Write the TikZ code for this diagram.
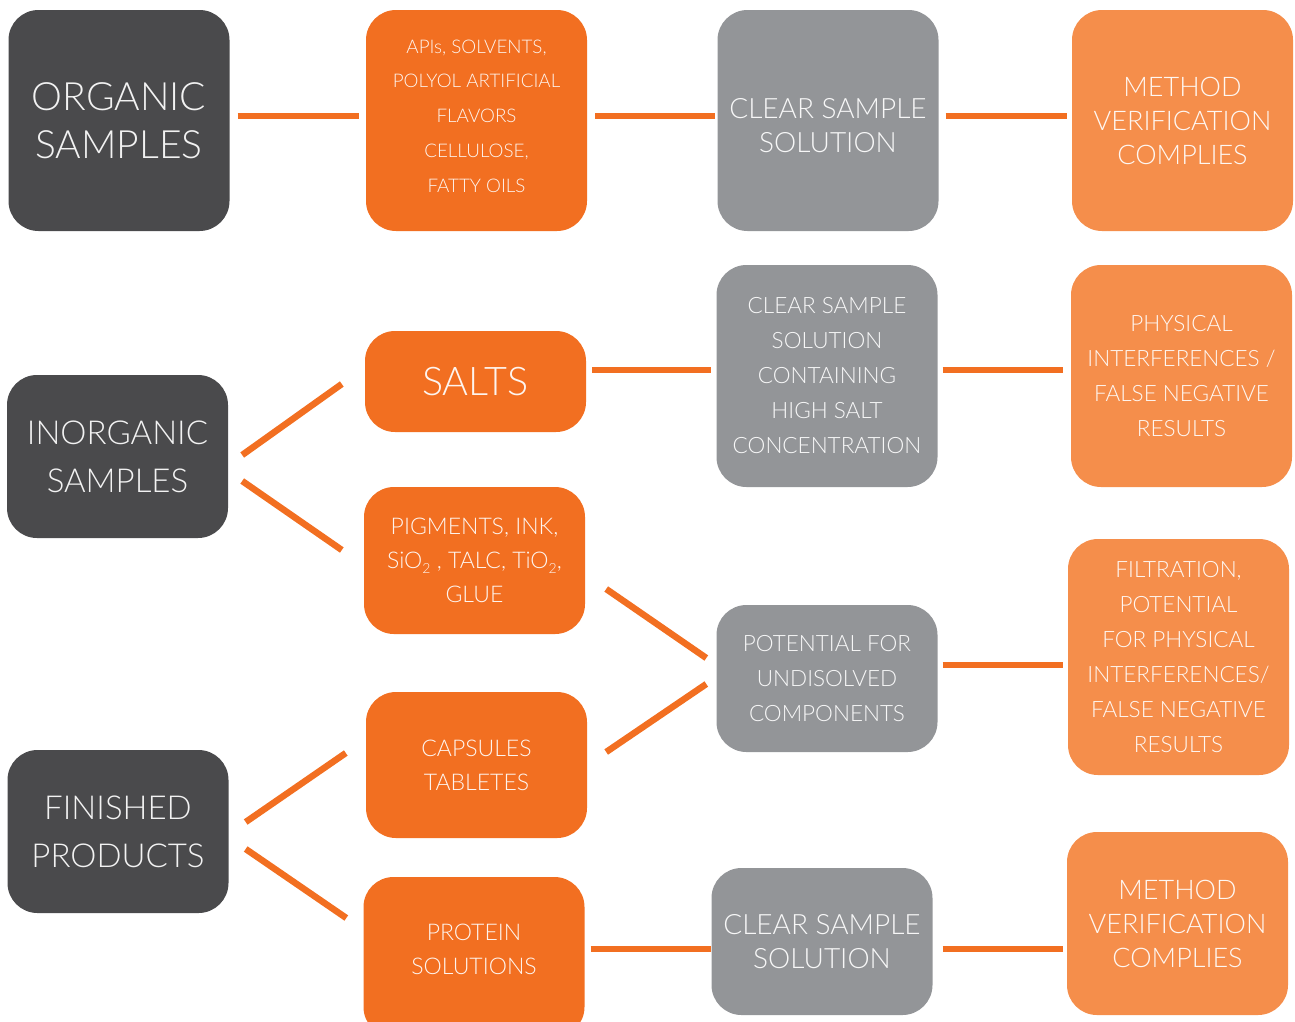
\documentclass[tikz,border=0pt]{standalone}
\usepackage{fontspec}
\setmainfont{Lato}[UprightFont=* Light]
\definecolor{boxdark}{HTML}{4A4A4C}
\definecolor{boxorange}{HTML}{F26F21}
\definecolor{boxgray}{HTML}{939598}
\definecolor{boxlight}{HTML}{F58E4B}
\definecolor{linkorange}{HTML}{F26F21}
\newcommand{\lowtwo}{\raisebox{-5pt}{\fontsize{14}{14}\selectfont 2}}
\tikzset{
  card/.style={rectangle, rounded corners=30pt, text=white, align=center,
    minimum width=221pt, inner sep=0pt, text opacity=0.93},
  darkcard/.style={card, fill=boxdark},
  orangecard/.style={card, fill=boxorange},
  graycard/.style={card, fill=boxgray},
  lightcard/.style={card, fill=boxlight},
  cardtext/.style={text=white, text opacity=0.93, align=center, inner sep=0pt},
  big/.style={font=\fontsize{39}{48}\selectfont},
  mid/.style={font=\fontsize{33}{48}\selectfont},
  med/.style={font=\fontsize{28}{34}\selectfont},
  medn/.style={font=\fontsize{27}{34}\selectfont},
  small/.style={font=\fontsize{22.5}{35}\selectfont},
  tiny/.style={font=\fontsize{23}{34}\selectfont},
  mini/.style={font=\fontsize{18.8}{34.7}\selectfont},
  link/.style={draw=linkorange, line width=6.5pt},
}
\begin{document}
\begin{tikzpicture}[x=1pt,y=-1pt]
\useasboundingbox (0,0) rectangle (1295,1021);

% first row: organic samples
\node[darkcard, big, minimum height=221pt] (org) at (119,120.5) {ORGANIC\\SAMPLES};
\node[orangecard, minimum height=221pt] (api) at (476.5,120.5) {};
\node[cardtext, mini] (apitext) at (476.5,116)
  {APIs, SOLVENTS,\\POLYOL ARTIFICIAL\\FLAVORS\\CELLULOSE,\\FATTY OILS};
\node[graycard, minimum height=221pt] (clr1) at (828,120.5) {};
\node[cardtext, med] (clr1text) at (828,125.5) {CLEAR SAMPLE\\SOLUTION};
\node[lightcard, medn, minimum height=221pt] (met1) at (1182.5,120.5) {METHOD\\VERIFICATION\\COMPLIES};

% inorganic samples
\node[darkcard, mid, minimum height=163pt] (inorg) at (117.5,456.5) {INORGANIC\\SAMPLES};
\node[orangecard, font=\fontsize{39.5}{40}\selectfont, minimum height=101pt] (salts) at (475.5,381.5) {SALTS};
\node[graycard, small, minimum height=222pt] (clr2) at (827,376)
  {CLEAR SAMPLE\\SOLUTION\\CONTAINING\\HIGH SALT\\CONCENTRATION};
\node[lightcard, small, minimum height=222pt] (phys) at (1181.5,376)
  {PHYSICAL\\INTERFERENCES /\\FALSE NEGATIVE\\RESULTS};
\node[orangecard, tiny, minimum height=147pt] (pig) at (474.5,560.5)
  {PIGMENTS, INK,\\SiO\lowtwo{} , TALC, TiO\lowtwo,\\GLUE};
\node[graycard, small, minimum height=147pt] (pot) at (827,678.5)
  {POTENTIAL FOR\\UNDISOLVED\\COMPONENTS};
\node[lightcard, small, minimum height=236pt] (filt) at (1178.5,657)
  {FILTRATION,\\POTENTIAL\\FOR PHYSICAL\\INTERFERENCES/\\FALSE NEGATIVE\\RESULTS};

% finished products
\node[orangecard, tiny, minimum height=146pt] (caps) at (476.5,765) {CAPSULES\\TABLETES};
\node[darkcard, mid, minimum height=163pt] (fin) at (118,831.5) {FINISHED\\PRODUCTS};
\node[orangecard, minimum height=160pt] (prot) at (474,957) {};
\node[cardtext, tiny] (prottext) at (474,949) {PROTEIN\\SOLUTIONS};
\node[graycard, med, minimum height=147pt] (clr3) at (822,941.5) {CLEAR SAMPLE\\SOLUTION};
\node[lightcard, medn, minimum height=183pt] (met3) at (1177.5,923.5) {METHOD\\VERIFICATION\\COMPLIES};

% connectors
\draw[link] ([shift={(8,-4.5)}]org.east) -- ([shift={(-7,-4.5)}]api.west);
\draw[link] ([shift={(8,-4.5)}]api.east) -- ([shift={(-2,-4.5)}]clr1.west);
\draw[link] ([shift={(7,-4.5)}]clr1.east) -- ([shift={(-5,-4.5)}]met1.west);

\draw[link] ([shift={(14,-1.5)}]inorg.east) -- ([shift={(-23,2.5)}]salts.west);
\draw[link] ([shift={(14,24.5)}]inorg.east) -- ([shift={(-22,-10.5)}]pig.west);
\draw[link] ([shift={(6,-11.5)}]salts.east) -- ([shift={(-5,-6)}]clr2.west);
\draw[link] ([shift={(5,-6)}]clr2.east) -- ([shift={(-8,-6)}]phys.west);

\draw[link] ([shift={(21,28.5)}]pig.east) -- ([shift={(-10,-20.5)}]pot.west);
\draw[link] ([shift={(19,-13)}]caps.east) -- ([shift={(-10,5.5)}]pot.west);
\draw[link] ([shift={(5,-13.5)}]pot.east) -- ([shift={(-5,8)}]filt.west);

\draw[link] ([shift={(17,-9.5)}]fin.east) -- ([shift={(-20,-12)}]caps.west);
\draw[link] ([shift={(17,17.5)}]fin.east) -- ([shift={(-17,-39)}]prot.west);
\draw[link] ([shift={(6,-8)}]prot.east) -- ([shift={(0,7.5)}]clr3.west);
\draw[link] ([shift={(10,7.5)}]clr3.east) -- ([shift={(-4,25.5)}]met3.west);
\end{tikzpicture}
\end{document}
